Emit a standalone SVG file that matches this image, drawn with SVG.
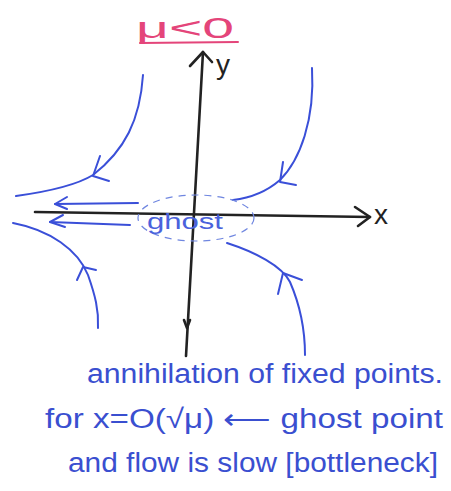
<svg xmlns="http://www.w3.org/2000/svg" width="451" height="491" viewBox="0 0 451 491">
<style>
.ax{fill:none;stroke:#222;stroke-width:2.6;stroke-linecap:round;stroke-linejoin:round}
.fl{fill:none;stroke:#3a4fd8;stroke-width:2;stroke-linecap:round;stroke-linejoin:round}
.gh{fill:none;stroke:#6f86e0;stroke-width:1.2;stroke-dasharray:7 6}
.bt{font-family:"Liberation Sans",Arial,sans-serif;fill:#3a4fd0;font-size:27px}
.pk{font-family:"Liberation Sans",Arial,sans-serif;fill:#e4457a}
</style>
<rect width="451" height="491" fill="#fff"/>
<g id="title">
<text class="pk" x="136" y="38" font-size="30" textLength="98" lengthAdjust="spacingAndGlyphs">μ&lt;0</text>
<path d="M140 43 L238 42" stroke="#e4457a" stroke-width="2" fill="none" stroke-linecap="round"/>
</g>
<g id="axes">
<path class="ax" d="M35 212 L370 217"/>
<path class="ax" d="M355 207 L370 217 L358 226"/>
<path class="ax" d="M203 52 L186 356"/>
<path class="ax" d="M190 66 L203 52 L212 62"/>
<path class="ax" d="M184 320 L187 328 L190 320"/>
<text x="374" y="224" font-family="Liberation Sans,Arial,sans-serif" font-size="28" fill="#222">x</text>
<text x="216" y="74" font-family="Liberation Sans,Arial,sans-serif" font-size="28" fill="#222">y</text>
</g>
<g id="connectors">
<path class="fl" d="M143 75 C140 120 125 150 93 175 C75 186 45 192 16 196"/>
<path class="fl" d="M100 156 L93 176 L109 181"/>
<path class="fl" d="M312 68 C315 120 300 160 280 180 C265 193 250 198 233 200"/>
<path class="fl" d="M283 162 L280 182 L296 185"/>
<path class="fl" d="M13 223 C50 230 78 250 88 275 C95 295 99 310 98 328"/>
<path class="fl" d="M77 280 L83 267 L96 270"/>
<path class="fl" d="M227 243 C255 252 282 266 290 282 C300 305 305 330 305 355"/>
<path class="fl" d="M278 294 L283 273 L302 280"/>
<path class="fl" d="M138 203 L55 204"/>
<path class="fl" d="M67 197 L55 204 L67 209"/>
<path class="fl" d="M130 225 L50 222"/>
<path class="fl" d="M63 215 L50 222 L65 227"/>
</g>
<g id="ghost">
<ellipse class="gh" cx="196" cy="218" rx="58" ry="23"/>
<text x="147" y="229" font-family="Liberation Sans,Arial,sans-serif" font-size="22" fill="#4a62dc" textLength="76" lengthAdjust="spacingAndGlyphs">ghost</text>
</g>
<g id="notes">
<text class="bt" x="87" y="383" textLength="356" lengthAdjust="spacingAndGlyphs">annihilation of fixed points.</text>
<text class="bt" x="45" y="428" textLength="398" lengthAdjust="spacingAndGlyphs">for x=O(√μ) ⟵ ghost point</text>
<text class="bt" x="68" y="472" textLength="370" lengthAdjust="spacingAndGlyphs">and flow is slow [bottleneck]</text>
</g>
</svg>
